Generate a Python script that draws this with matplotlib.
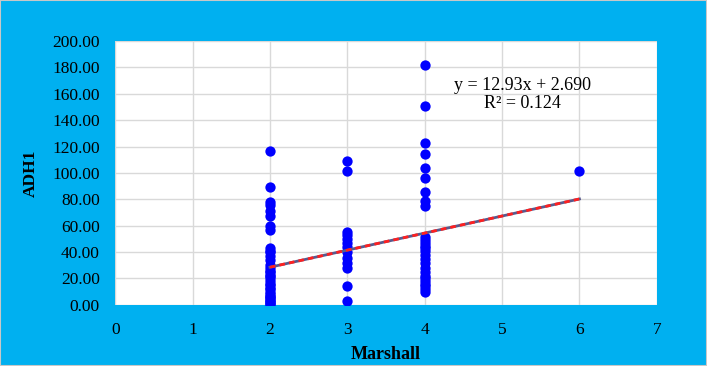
import matplotlib.pyplot as plt
from matplotlib.patches import Rectangle

# Marshall grade vs ADH1 values
m2 = [117, 89.5, 78, 76, 71, 67, 60, 57, 43, 41, 40, 37, 34, 30, 28, 26, 25,
      23, 22, 20, 18, 16, 15, 13, 12, 10, 8, 7, 6, 5, 4, 3, 2, 1, 0.5]
m3 = [109.3, 101.7, 55.5, 53, 49.7, 46.7, 43.7, 40.4, 35.3, 32, 28.3, 14.4, 3]
m4 = [181.8, 150.8, 123, 114.1, 104, 96.4, 85.4, 78.8, 75, 51.5, 49, 47, 45,
      43, 41, 38, 35, 32, 28, 25, 22, 20, 18, 16, 14, 12, 10]
m6 = [101.7]

marshall = [2] * len(m2) + [3] * len(m3) + [4] * len(m4) + [6] * len(m6)
adh1 = m2 + m3 + m4 + m6

slope = 12.93
intercept = 2.69
fit_x = [2, 6]
fit_y = [slope * x + intercept for x in fit_x]

plt.rcParams['font.family'] = ['Liberation Serif', 'DejaVu Serif']

fig = plt.figure(figsize=(7.07, 3.66), dpi=100, facecolor='#00b0f0')
fig.patches.append(Rectangle((0, 0), 1, 1, transform=fig.transFigure,
                             fill=False, edgecolor='#c8c8c8', linewidth=1.5))
ax = fig.add_axes([0.163, 0.167, 0.766, 0.721])
ax.set_facecolor('white')

ax.scatter(marshall, adh1, s=55, color='#0000ff', zorder=3, linewidths=0)
ax.plot(fit_x, fit_y, color='#5a5a8c', linewidth=2, zorder=4)
ax.plot(fit_x, fit_y, color='#ff2020', linewidth=2, linestyle=(0, (2, 1.5)), zorder=5)

ax.text(5.26, 166, 'y = 12.93x + 2.690', ha='center', va='center', fontsize=13)
ax.text(5.26, 153, 'R² = 0.124', ha='center', va='center', fontsize=13)

ax.set_xlim(0, 7)
ax.set_ylim(0, 200)
ax.set_xticks(range(0, 8))
ax.set_yticks(range(0, 201, 20))
ax.set_yticklabels([f'{v:.2f}' for v in range(0, 201, 20)])
ax.tick_params(length=0, labelsize=12.5)
ax.tick_params(axis='y', pad=11)
ax.tick_params(axis='x', pad=12)
ax.grid(True, color='#d9d9d9', linewidth=1)
ax.set_axisbelow(True)
for s in ax.spines.values():
    s.set_visible(False)

ax.set_xlabel('Marshall', fontsize=13, fontweight='bold', labelpad=6)
ax.set_ylabel('ADH1', fontsize=12.5, fontweight='bold', labelpad=10)

fig.savefig('out.png', dpi=100, facecolor=fig.get_facecolor())
